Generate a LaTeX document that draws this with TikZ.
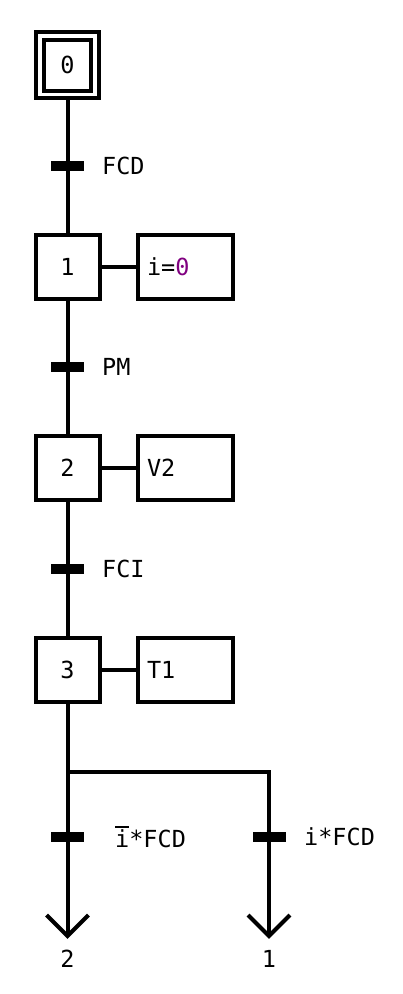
\documentclass[tikz,border=0pt]{standalone}
\usepackage{fontspec}
\setmainfont{DejaVu Sans Mono}
\definecolor{numpurple}{RGB}{128,0,128}
\newcommand\ovbar[1]{\leavevmode\rlap{\rule[0.8em]{0.6em}{2pt}}#1}
\begin{document}
\begin{tikzpicture}[x=1pt,y=-1pt,
  every node/.style={font=\fontsize{23.5}{26}\selectfont},
  stepbox/.style={draw,line width=4pt,minimum width=64pt,minimum height=64pt,inner sep=0pt},
  actbox/.style={draw,line width=4pt,minimum height=64pt,text width=77pt,inner sep=9pt,align=left},
  bar/.style={fill=black,minimum width=33pt,minimum height=10pt,inner sep=0pt},
  lbl/.style={anchor=west,inner sep=0pt},
  link/.style={line width=4pt},
  tipline/.style={line width=4pt,line join=miter}]
\useasboundingbox (0,0) rectangle (402,994);
% initial step
\node[draw,line width=4pt,minimum width=63pt,minimum height=66pt,inner sep=0pt] (s0) at (67.5,65) {};
\node[draw,line width=4pt,minimum width=47pt,minimum height=51pt,inner sep=0pt] (s0in) at (67.5,65) {0};
% steps
\node[stepbox] (s1) at (67.5,266.5) {1};
\node[stepbox] (s2) at (67.5,467.5) {2};
\node[stepbox] (s3) at (67.5,670) {3};
% actions
\node[actbox] (a1) at (185.5,266.5) {i=\textcolor{numpurple}{0}};
\node[actbox] (a2) at (185.5,467.5) {V2};
\node[actbox] (a3) at (185.5,670) {T1};
% links
\draw[link] (s0) -- (s1);
\draw[link] (s1) -- (s2);
\draw[link] (s2) -- (s3);
\draw[link] (s1) -- (a1);
\draw[link] (s2) -- (a2);
\draw[link] (s3) -- (a3);
% transitions
\node[bar] (t1) at (67.5,166) {};
\node[bar] (t2) at (67.5,367) {};
\node[bar] (t3) at (67.5,568.5) {};
\node[lbl] (l1) at (102,166) {FCD};
\node[lbl] (l2) at (102,367) {PM};
\node[lbl] (l3) at (102,568.5) {FCI};
% divergence
\coordinate (br) at (67.5,772);
\coordinate (brR) at (269,772);
\coordinate (e2) at (67.5,936);
\coordinate (e1) at (269,936);
\draw[link] (s3) -- (br) -- (e2);
\draw[link,line join=miter] (br) -- (brR) -- (e1);
\node[bar] (t4) at (67.5,837) {};
\node[bar] (t5) at (269,837) {};
\node[lbl] (l4) at (115,837) {\ovbar{i}*FCD};
\node[lbl] (l5) at (304,837) {i*FCD};
% arrows
\draw[tipline] ([shift={(-21,-21)}]e2) -- (e2) -- ([shift={(21,-21)}]e2);
\draw[tipline] ([shift={(-21,-21)}]e1) -- (e1) -- ([shift={(21,-21)}]e1);
\node (n2) at (67.5,959) {2};
\node (n1) at (269,959) {1};
\end{tikzpicture}
\end{document}
